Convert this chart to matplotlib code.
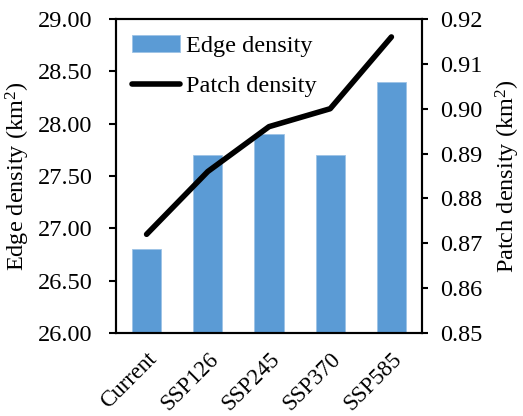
import matplotlib
matplotlib.use("Agg")
import matplotlib.pyplot as plt
import numpy as np

categories = ["Current", "SSP126", "SSP245", "SSP370", "SSP585"]
edge_density = [26.80, 27.70, 27.90, 27.70, 28.40]
patch_density = [0.872, 0.886, 0.896, 0.900, 0.916]
left_ticks = [26.00, 26.50, 27.00, 27.50, 28.00, 28.50, 29.00]
right_ticks = [0.85, 0.86, 0.87, 0.88, 0.89, 0.90, 0.91, 0.92]

plt.rcParams['font.family'] = ['Liberation Serif', 'DejaVu Serif']
plt.rcParams['mathtext.fontset'] = 'custom'
plt.rcParams['mathtext.rm'] = 'Liberation Serif'
plt.rcParams['mathtext.it'] = 'Liberation Serif:italic'
fs = 17.5

fig = plt.figure(figsize=(5.23, 4.16), dpi=100)
ax = fig.add_axes([116/523, 1-333/416, (422-116)/523, (333-19)/416])
x = np.arange(len(categories))
bars = ax.bar(x, edge_density, width=0.48, color='#5B9BD5', edgecolor='#9DC3E6',
              linewidth=0.6, label='Edge density', zorder=2)
ax.set_ylim(26, 29)
ax.set_xlim(-0.5, 4.5)
ax.set_yticks(left_ticks)
ax.set_yticklabels([f"{v:.2f}" for v in left_ticks], fontsize=fs)
ax.set_xticks(x)
ax.set_xticklabels(categories, rotation=45, ha='right', va='top', rotation_mode='anchor', fontsize=16.5)
ax.tick_params(axis='x', length=0, pad=11)
ax.tick_params(axis='y', direction='out', length=5, width=1.5, pad=12)
ax.set_ylabel("Edge density (km$^2$)", fontsize=fs, labelpad=4)
for s in ax.spines.values():
    s.set_linewidth(1.5)

ax2 = ax.twinx()
line, = ax2.plot(x, patch_density, color='black', lw=4, solid_capstyle='round',
                 label='Patch density', zorder=3)
ax2.set_ylim(0.85, 0.92)
ax2.set_yticks(right_ticks)
ax2.set_yticklabels([f"{v:.2f}" for v in right_ticks], fontsize=fs)
ax2.tick_params(axis='y', direction='out', length=4, width=1.5, pad=9)
ax2.set_ylabel("Patch density (km$^2$)", fontsize=fs, labelpad=8)
for s in ax2.spines.values():
    s.set_linewidth(1.5)

ax.legend([bars, line], ['Edge density', 'Patch density'], loc='upper left', frameon=False,
          fontsize=fs, handlelength=2.0, handletextpad=0.25, labelspacing=0.75,
          borderaxespad=0.35, borderpad=0.3, bbox_to_anchor=(0.0, 1.0))

fig.savefig("out.png", dpi=100)
